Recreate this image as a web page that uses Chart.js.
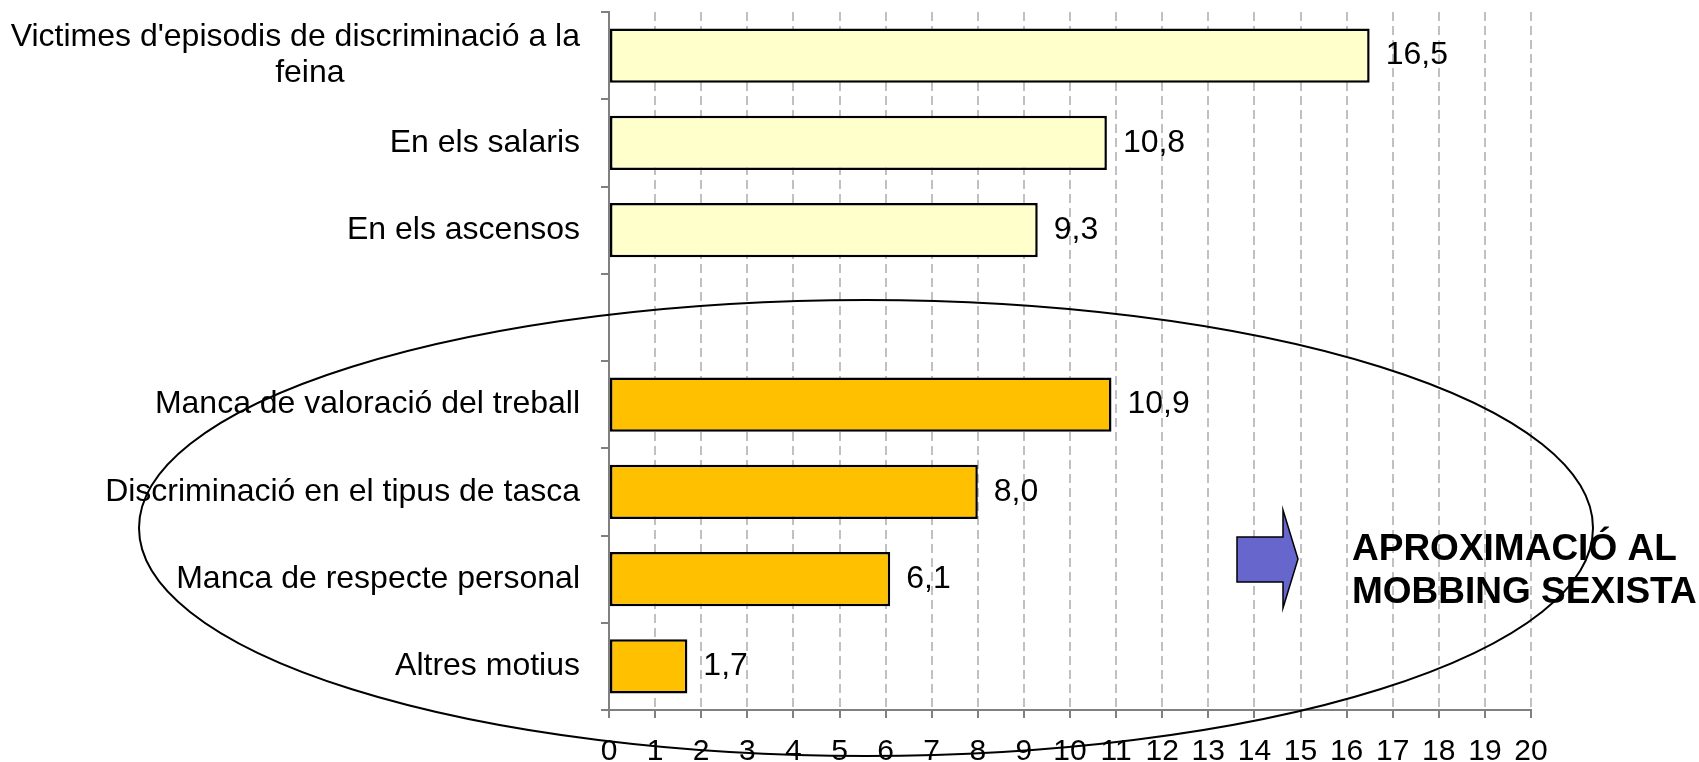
<!DOCTYPE html>
<html>
<head>
<meta charset="utf-8">
<script src="https://cdn.jsdelivr.net/npm/chart.js@4.4.1/dist/chart.umd.min.js"></script>
<style>
    html, body {margin: 0; padding: 0; background: #fff;}
    #wrap {width: 1699px; height: 762px; position: relative;}
</style>
</head>
<body>
<div id="wrap"><canvas id="grafic"></canvas></div>
<script>
const categories = [
    ["Victimes d'episodis de discriminació a la", "feina"],
    "En els salaris",
    "En els ascensos",
    "",
    "Manca de valoració del treball",
    "Discriminació en el tipus de tasca",
    "Manca de respecte personal",
    "Altres motius"
];
const values = [16.5, 10.8, 9.3, null, 10.9, 8.0, 6.1, 1.7];
const groups = ["general", "general", "general", "buit", "mobbing", "mobbing", "mobbing", "mobbing"];
const xTicks = [0, 20, 1];   // min, max, step

const FONT = "'Liberation Sans', Arial, sans-serif";
const groupColors = {general: "#FFFFCC", mobbing: "#FFC000", buit: "#FFFFFF"};

// etiquetes de l'eix de categories (dibuixades a ma per poder fer el salt de linia centrat)
const categoryLabels = {
    id: "categoryLabels",
    afterDraw(chart) {
        const ctx = chart.ctx;
        const scale = chart.scales.y;
        const right = chart.chartArea.left - 29;
        ctx.save();
        ctx.font = "32px " + FONT;
        ctx.fillStyle = "#000";
        ctx.textBaseline = "middle";
        chart.data.labels.forEach((label, i) => {
            const y = scale.getPixelForValue(i);
            if (Array.isArray(label)) {
                ctx.textAlign = "right";
                ctx.fillText(label[0], right, y - 18);
                const left = right - ctx.measureText(label[0]).width;
                ctx.textAlign = "center";
                ctx.fillText(label[1], (left + chart.chartArea.left) / 2, y + 18);
            } else {
                ctx.textAlign = "right";
                ctx.fillText(label, right, y);
            }
        });
        ctx.restore();
    }
};

const valueLabels = {
    id: "valueLabels",
    afterDatasetsDraw(chart) {
        const ctx = chart.ctx;
        const meta = chart.getDatasetMeta(0);
        ctx.save();
        ctx.font = "32px " + FONT;
        ctx.fillStyle = "#000";
        ctx.textAlign = "left";
        ctx.textBaseline = "middle";
        meta.data.forEach((bar, i) => {
            const v = chart.data.datasets[0].data[i];
            if (v === null) return;
            ctx.fillText(v.toFixed(1).replace(".", ","), bar.x + 16, bar.y);
        });
        ctx.restore();
    }
};

// oval, fletxa i text de l'anotacio
const annotation = {
    id: "annotation",
    afterDraw(chart) {
        const ctx = chart.ctx;
        ctx.save();

        ctx.beginPath();
        ctx.ellipse(866, 528, 727, 228, 0, 0, Math.PI * 2);
        ctx.lineWidth = 2;
        ctx.strokeStyle = "#000";
        ctx.stroke();

        ctx.beginPath();
        ctx.moveTo(1237, 537);
        ctx.lineTo(1283, 537);
        ctx.lineTo(1283, 510);
        ctx.lineTo(1298, 559);
        ctx.lineTo(1283, 608);
        ctx.lineTo(1283, 582);
        ctx.lineTo(1237, 582);
        ctx.closePath();
        ctx.fillStyle = "#6666CC";
        ctx.fill();
        ctx.lineWidth = 1.5;
        ctx.stroke();

        ctx.fillStyle = "#000";
        ctx.font = "bold 37px " + FONT;
        ctx.textAlign = "left";
        ctx.textBaseline = "alphabetic";
        ctx.fillText("APROXIMACIÓ AL", 1352, 560);
        ctx.fillText("MOBBING SEXISTA", 1352, 603);
        ctx.restore();
    }
};

new Chart(document.getElementById("grafic"), {
    type: "bar",
    data: {
        labels: categories,
        datasets: [{
            data: values,
            backgroundColor: groups.map(g => groupColors[g]),
            borderColor: "#000",
            borderWidth: 2.5,
            borderSkipped: false,
            barPercentage: 0.62,
            categoryPercentage: 1
        }]
    },
    options: {
        indexAxis: "y",
        responsive: true,
        maintainAspectRatio: false,
        animation: false,
        layout: {padding: {left: 601, right: 168, top: 12, bottom: 0}},
        plugins: {legend: {display: false}, tooltip: {enabled: false}},
        scales: {
            x: {
                min: xTicks[0],
                max: xTicks[1],
                ticks: {
                    stepSize: xTicks[2],
                    padding: 16,
                    color: "#000",
                    font: {family: FONT, size: 30}
                },
                grid: {color: "#C0C0C0", lineWidth: 2, tickColor: "#808080", tickLength: 8},
                border: {color: "#808080", width: 2, dash: [9, 5]},
                afterFit: scale => { scale.height = 52; }
            },
            y: {
                ticks: {display: false},
                grid: {drawOnChartArea: false, tickColor: "#808080", tickLength: 8, lineWidth: 2, offset: true},
                border: {color: "#808080", width: 2},
                afterFit: scale => { scale.width = 8; }
            }
        }
    },
    plugins: [categoryLabels, valueLabels, annotation]
});
</script>
</body>
</html>
